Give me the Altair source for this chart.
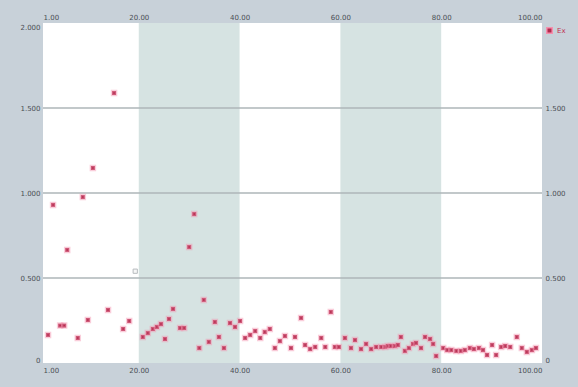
import altair as alt
import pandas as pd

# Measured series
xs = [2.0, 3.0, 4.4, 5.2, 5.8, 7.9, 8.9, 9.9, 10.9, 13.9, 15.1, 16.9, 18.1,
      20.8, 21.8, 22.8, 23.6, 24.4, 25.2, 26.0, 26.8, 28.2, 29.0, 30.0, 31.0,
      32.0, 32.9, 33.9, 35.1, 35.9, 36.9, 38.1, 39.1, 40.1,
      41.1, 42.1, 43.1, 44.1, 45.0, 46.0, 47.0, 48.0, 49.0, 50.2, 51.0, 52.2,
      53.0, 54.0, 55.0, 56.2, 57.0, 58.1, 58.9, 59.7,
      60.9, 62.1, 62.9, 64.1, 65.1, 66.1, 67.1, 68.1, 68.9, 69.4, 70.0, 70.8,
      71.4, 72.0, 72.8, 73.6, 74.4, 75.0, 76.0, 76.8, 77.8, 78.4, 79.0,
      80.4, 81.2, 82.0, 83.0, 83.9, 84.7, 85.7, 86.5, 87.5, 88.3, 89.1, 90.1,
      90.9, 91.9, 92.7, 93.7, 95.0, 96.0, 97.0, 98.0, 98.8]
ys = [0.165, 0.93, 0.22, 0.22, 0.665, 0.147, 0.976, 0.253, 1.147, 0.312, 1.588, 0.20, 0.247,
      0.153, 0.176, 0.20, 0.212, 0.229, 0.141, 0.259, 0.318, 0.206, 0.206, 0.682, 0.876,
      0.088, 0.371, 0.124, 0.241, 0.153, 0.088, 0.235, 0.212, 0.247,
      0.147, 0.165, 0.188, 0.147, 0.182, 0.200, 0.088, 0.129, 0.159, 0.088, 0.153, 0.265,
      0.106, 0.082, 0.094, 0.147, 0.094, 0.300, 0.094, 0.094,
      0.147, 0.088, 0.135, 0.082, 0.112, 0.082, 0.094, 0.094, 0.094, 0.100, 0.100, 0.100,
      0.106, 0.153, 0.071, 0.088, 0.112, 0.118, 0.088, 0.153, 0.141, 0.112, 0.041,
      0.088, 0.076, 0.076, 0.071, 0.071, 0.076, 0.088, 0.082, 0.088, 0.076, 0.047, 0.106,
      0.047, 0.094, 0.100, 0.094, 0.153, 0.088, 0.065, 0.076, 0.088]
series_name = "Ex"

# Isolated faded sample
faded_x = [19.3]
faded_y = [0.54]

# Shaded x intervals
band_start = [20, 60]
band_end = [40, 80]

x_ticks = [1, 20, 40, 60, 80, 100]
y_ticks_left = [0, 0.5, 1.0, 1.5, 2.0]
y_ticks_right = [0, 0.5, 1.0, 1.5]

X_DOMAIN = [1, 100]
Y_DOMAIN = [0, 2.0]

pts = pd.DataFrame({"x": xs, "y": ys, "s": series_name})
faded = pd.DataFrame({"x": faded_x, "y": faded_y})
bands = pd.DataFrame({"x0": band_start, "x1": band_end})
grid = pd.DataFrame({"y": [0.5, 1.0, 1.5]})

label_style = dict(labelFontSize=7, labelColor="#4a4f55", labelFont="DejaVu Sans",
                   ticks=False, domain=False, grid=False, labelPadding=3, title=None)

xs_scale = alt.Scale(domain=X_DOMAIN, nice=False, zero=False)
ys_scale = alt.Scale(domain=Y_DOMAIN, nice=False)

y_expr = "datum.value == 0 ? '0' : format(datum.value, '.3f')"

band_layer = alt.Chart(bands).mark_rect(color="#d6e3e2").encode(
    x=alt.X("x0:Q", scale=xs_scale,
            axis=alt.Axis(orient="top", values=x_ticks, format=".2f", labelFlush=True, **label_style)),
    x2="x1:Q",
    y=alt.Y(datum=Y_DOMAIN[0], scale=ys_scale,
            axis=alt.Axis(orient="right", values=y_ticks_right, labelExpr=y_expr, labelFlush=True,
                          **label_style)),
    y2=alt.Y2(datum=Y_DOMAIN[1]),
)

grid_layer = alt.Chart(grid).mark_rule(color="#aeb6b9", strokeWidth=1.5).encode(
    y=alt.Y("y:Q", scale=ys_scale, axis=None),
)

faded_layer = alt.Chart(faded).mark_point(
    shape="square", filled=True, size=18, fill="#f4f4f4", stroke="#9aa0a4", strokeWidth=1
).encode(
    x=alt.X("x:Q", scale=xs_scale, axis=None),
    y=alt.Y("y:Q", scale=ys_scale, axis=None),
)

point_layer = alt.Chart(pts).mark_point(
    shape="square", filled=True, size=16, stroke="#f590ae", strokeWidth=2.5,
    strokeOpacity=0.45, opacity=1
).encode(
    x=alt.X("x:Q", scale=xs_scale,
            axis=alt.Axis(orient="bottom", values=x_ticks, format=".2f", labelFlush=True, **label_style)),
    y=alt.Y("y:Q", scale=ys_scale,
            axis=alt.Axis(orient="left", values=y_ticks_left, labelExpr=y_expr, labelFlush=True,
                          **label_style)),
    color=alt.Color("s:N", scale=alt.Scale(range=["#b02a4c"]),
                    legend=alt.Legend(title=None, orient="none", legendX=503, legendY=4,
                                      symbolType="square", symbolSize=30, labelFontSize=7,
                                      labelColor="#c0304f", labelFont="DejaVu Sans",
                                      padding=0, rowPadding=0)),
)

chart = alt.layer(band_layer, grid_layer, faded_layer, point_layer).resolve_axis(
    x="independent", y="independent"
).properties(
    width=499, height=340,
    autosize=alt.AutoSizeParams(type="none"),
    padding={"left": 43, "top": 23, "right": 36, "bottom": 24},
    background="#c8d1d9",
).configure_view(fill="white", stroke=None)

chart.save("out.html", embed_options={"renderer": "svg", "actions": False})
